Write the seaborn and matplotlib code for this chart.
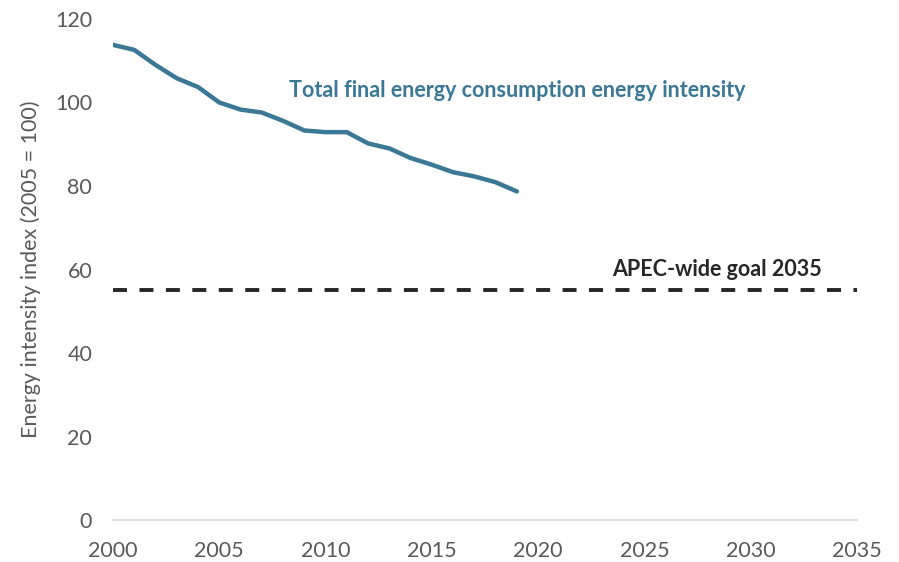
import numpy as np
import pandas as pd
import matplotlib
matplotlib.use("Agg")
import matplotlib.pyplot as plt
import seaborn as sns

# Data
years = list(range(2000, 2020))
intensity = [113.8, 112.6, 109.0, 105.8, 103.7, 100.0, 98.3, 97.6, 95.6, 93.3,
             92.9, 92.9, 90.2, 89.0, 86.7, 85.1, 83.3, 82.3, 80.9, 78.7]
goal_years = [2000, 2035]
goal_value = [55, 55]
x_ticks = [2000, 2005, 2010, 2015, 2020, 2025, 2030, 2035]
y_ticks = [0, 20, 40, 60, 80, 100, 120]

df = pd.DataFrame({"Year": years, "Index": intensity})
goal = pd.DataFrame({"Year": goal_years, "Index": goal_value})

sns.set_style("white")
plt.rcParams['font.family'] = ['Lato', 'DejaVu Sans']

blue = "#3B7896"
grey = "#595959"

fig = plt.figure(figsize=(8.99, 5.62), dpi=100)
ax = fig.add_axes([0.1257, 0.0747, 0.8276, 0.8915])

sns.lineplot(data=df, x="Year", y="Index", color=blue, linewidth=3.2, ax=ax)
sns.lineplot(data=goal, x="Year", y="Index", color="#262626", linewidth=2.8,
             linestyle=(0, (3.6, 3.2)), ax=ax)

ax.set_xlim(2000, 2035)
ax.set_ylim(0, 120)
ax.set_xticks(x_ticks)
ax.set_yticks(y_ticks)
ax.tick_params(axis="both", length=0, labelsize=15.5, colors=grey, pad=15)
ax.set_xlabel("")
ax.set_ylabel("Energy intensity index (2005 = 100)", fontsize=15.5, color=grey, labelpad=10)

for s in ["top", "right", "left"]:
    ax.spines[s].set_visible(False)
ax.spines["bottom"].set_color("#D9D9D9")
ax.spines["bottom"].set_linewidth(1.2)

ax.text(2008.3, 102.8, "Total final energy consumption energy intensity",
        color=blue, fontsize=15.5, fontweight="bold", va="center", ha="left")
ax.text(2023.5, 60.1, "APEC-wide goal 2035",
        color="#262626", fontsize=15.5, fontweight="bold", va="center", ha="left")

fig.savefig("out.png", dpi=100)
